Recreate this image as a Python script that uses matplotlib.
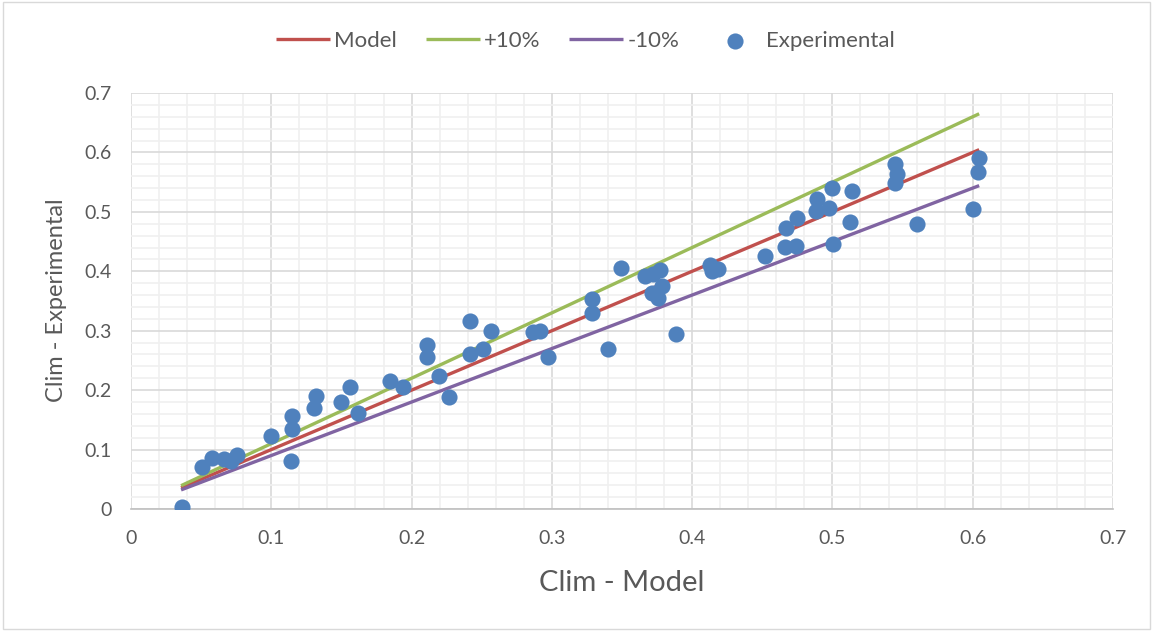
import matplotlib
matplotlib.use("Agg")
import matplotlib.pyplot as plt
from matplotlib.ticker import MultipleLocator
from matplotlib.patches import Rectangle

plt.rcParams['font.family'] = ['Lato', 'DejaVu Sans']

model_x = [0.0357, 0.6046]
exp_x = [0.0361, 0.0506, 0.0577, 0.0661, 0.0713, 0.0756, 0.0998, 0.1145, 0.1148, 0.1140,
         0.1319, 0.1306, 0.1497, 0.1561, 0.1616, 0.1846, 0.1937, 0.2108, 0.2108, 0.2195,
         0.2267, 0.2416, 0.2416, 0.2511, 0.2566, 0.2867, 0.2915, 0.2970, 0.3288, 0.3288,
         0.3398, 0.3492, 0.3664, 0.3723, 0.3770, 0.3783, 0.3711, 0.3758, 0.3885, 0.4127,
         0.4139, 0.4186, 0.4519, 0.4668, 0.4745, 0.4661, 0.4740, 0.4887, 0.4882, 0.4977,
         0.4994, 0.5001, 0.5137, 0.5125, 0.5449, 0.5460, 0.5445, 0.5602, 0.6003, 0.6046,
         0.6039]
exp_y = [0.0039, 0.0702, 0.0863, 0.0841, 0.0808, 0.0909, 0.1228, 0.1565, 0.1346, 0.0808,
         0.1901, 0.1694, 0.1805, 0.2048, 0.1620, 0.2159, 0.2048, 0.2760, 0.2553, 0.2238,
         0.1885, 0.3168, 0.2603, 0.2692, 0.3000, 0.2983, 0.3000, 0.2563, 0.3534, 0.3303,
         0.2687, 0.4060, 0.3921, 0.3949, 0.4022, 0.3752, 0.3629, 0.3555, 0.2945, 0.4106,
         0.4010, 0.4033, 0.4257, 0.4723, 0.4891, 0.4403, 0.4430, 0.5211, 0.5014, 0.5070,
         0.5396, 0.4454, 0.5351, 0.4824, 0.5802, 0.5634, 0.5490, 0.4801, 0.5055, 0.5906,
         0.5676]
series_names = ["Model", "+10%", "-10%", "Experimental"]
factors = [1.0, 1.1, 0.9]
line_colors = ["#C0504D", "#9BBB59", "#8064A2"]
point_color = "#4F81BD"
text_color = "#595959"

fig = plt.figure(figsize=(11.53, 6.31), dpi=100)
ax = fig.add_axes([131/1153, 1-509/631, (1113-131)/1153, (509-93)/631])

for name, f, c in zip(series_names[:3], factors, line_colors):
    ax.plot(model_x, [v*f for v in model_x], color=c, lw=2.4, label=name, zorder=3,
            solid_capstyle='butt')
ax.scatter(exp_x, exp_y, s=135, color=point_color, label=series_names[3], zorder=4,
           linewidths=0)

ax.set_xlim(0, 0.7)
ax.set_ylim(0, 0.7)
ax.xaxis.set_major_locator(MultipleLocator(0.1))
ax.yaxis.set_major_locator(MultipleLocator(0.1))
ax.xaxis.set_minor_locator(MultipleLocator(0.02))
ax.yaxis.set_minor_locator(MultipleLocator(0.02))
ax.grid(which='major', color='#d9d9d9', lw=1.2, zorder=0)
ax.grid(which='minor', color='#f0f0f0', lw=1.2, zorder=0)
ax.set_axisbelow(True)
for s in ['top', 'right', 'left']:
    ax.spines[s].set_visible(False)
ax.spines['bottom'].set_color('#bfbfbf')
ax.spines['bottom'].set_linewidth(1.2)
ax.tick_params(which='both', length=0, labelsize=14, colors=text_color)
ax.tick_params(axis='x', pad=15)
ax.tick_params(axis='y', pad=14)

def fmt(v, pos):
    return "0" if abs(v) < 1e-9 else ("%.1f" % v)
ax.xaxis.set_major_formatter(fmt)
ax.yaxis.set_major_formatter(fmt)

ax.set_xlabel("Clim - Model", fontsize=21, color=text_color, va='center')
ax.xaxis.set_label_coords(0.5, -0.178)
ax.set_ylabel("Clim - Experimental", fontsize=17, color=text_color, va='center')
ax.yaxis.set_label_coords(-0.0754, 0.502)

leg = fig.legend(loc='center', bbox_to_anchor=(585.5/1153, 1-41/631), ncol=4, frameon=False,
                 fontsize=16, handlelength=2.43, columnspacing=1.3, handletextpad=0.18,
                 labelcolor=text_color)

fig.patches.append(Rectangle((0.003, 0.003), 0.994, 0.994, transform=fig.transFigure,
                             fill=False, edgecolor='#d9d9d9', lw=1))
fig.savefig("out.png", dpi=100)
